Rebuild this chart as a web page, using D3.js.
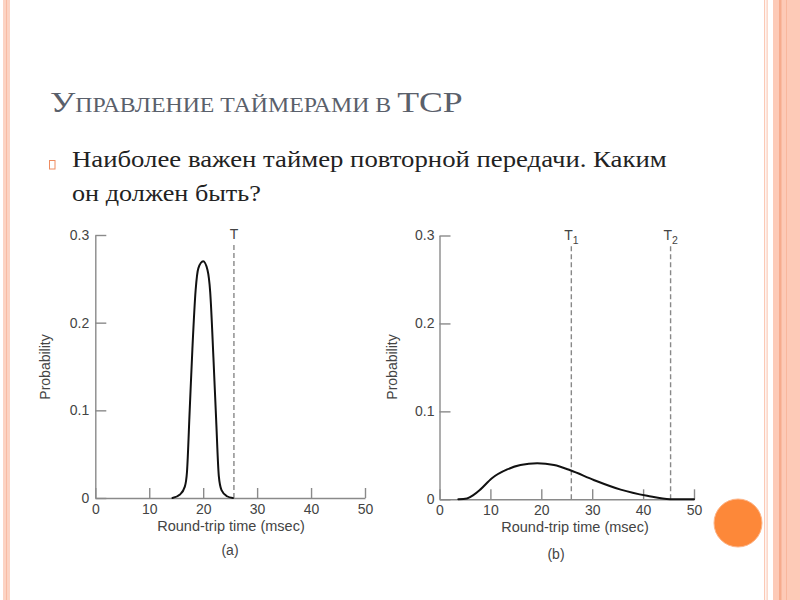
<!DOCTYPE html>
<html>
<head>
<meta charset="utf-8">
<script src="https://cdn.jsdelivr.net/npm/d3@7"></script>
<style>
  html, body { margin: 0; padding: 0; background: #fff; }
  svg { display: block; }
</style>
</head>
<body>
<div id="slide"></div>
<script>
// textos del slide
const titulo = ["У", "ПРАВЛЕНИЕ ТАЙМЕРАМИ В ", "TCP"];
const lineas = ["Наиболее важен таймер повторной передачи. Каким", "он должен быть?"];

// ejes
const xTicks = [0, 10, 20, 30, 40, 50];
const yTicks = [0, 0.1, 0.2, 0.3];
const xLabel = "Round-trip time (msec)";
const yLabel = "Probability";

// (a) distribucion angosta
const rttA = [14.3, 15.7, 16.6, 17.0, 17.5, 18.0, 18.6, 19.1, 20.0, 20.8, 21.3, 21.9, 22.4, 22.9, 23.4, 24.4, 25.5];
const probA = [0, 0.004, 0.013, 0.03, 0.10, 0.17, 0.237, 0.262, 0.27, 0.26, 0.235, 0.16, 0.09, 0.025, 0.009, 0.002, 0];
const timersA = ["T"];
const timersAValor = [25.7];

// (b) distribucion ancha
const rttB = [3.7, 5.4, 6.7, 8.0, 10.3, 13.3, 15.9, 19.2, 22.5, 25.7, 30.3, 35.6, 40.8, 45.3, 50];
const probB = [0, 0.001, 0.005, 0.011, 0.024, 0.034, 0.039, 0.041, 0.039, 0.033, 0.022, 0.011, 0.004, 0, 0];
const timersB = ["T1", "T2"];
const timersBValor = [25.9, 45.4];

const width = 800
const height = 600
const fuente = "'Liberation Sans', Arial, sans-serif";

const svg = d3.select("#slide").append("svg")
  .attr("width", width)
  .attr("height", height)
  .attr("viewBox", [0, 0, width, height]);

// bordes del slide
svg.append("rect").attr("x", 3).attr("y", 0).attr("width", 7).attr("height", height).attr("fill", "#fcd3c3");
svg.append("rect").attr("x", 6).attr("y", 0).attr("width", 1).attr("height", height).attr("fill", "#f8bba3");
svg.append("rect").attr("x", 764).attr("y", 0).attr("width", 1.2).attr("height", height).attr("fill", "#fbc9b6");
svg.append("rect").attr("x", 766.5).attr("y", 0).attr("width", 1.2).attr("height", height).attr("fill", "#fbc9b6");
svg.append("rect").attr("x", 773).attr("y", 0).attr("width", 27).attr("height", height).attr("fill", "#fdcab7");
svg.append("rect").attr("x", 779).attr("y", 0).attr("width", 2.5).attr("height", height).attr("fill", "#f6ab8d");
svg.append("rect").attr("x", 786).attr("y", 0).attr("width", 1).attr("height", height).attr("fill", "#f8b79d");

// ajusta el ancho de un texto al del original
const ajustar = (sel, x, y, ancho) => {
  const w = sel.node().getComputedTextLength();
  sel.attr("transform", `translate(${x},${y}) scale(${ancho / w},1)`);
}

const tit = svg.append("text")
  .attr("font-family", "'Liberation Serif', 'DejaVu Serif', serif")
  .attr("fill", "#5a606b");
tit.selectAll("tspan")
  .data(titulo)
  .join("tspan")
  .attr("font-size", (d, i) => i === 1 ? 20 : 30)
  .text(d => d);
ajustar(tit, 50, 112, 413);

// bullet
svg.append("rect")
  .attr("x", 49.5).attr("y", 160.5)
  .attr("width", 5.5).attr("height", 8.5)
  .attr("fill", "none")
  .attr("stroke", "#ef8c61")
  .attr("stroke-width", 1);

const anchos = [595, 189];
lineas.forEach((linea, i) => {
  const t = svg.append("text")
    .attr("font-family", "'Liberation Serif', 'DejaVu Serif', serif")
    .attr("font-size", 23)
    .attr("fill", "#222")
    .text(linea);
  ajustar(t, 72, 167 + i * 34, anchos[i]);
});

const dibujarGrafico = (cfg) => {
  const x = d3.scaleLinear()
    .domain([0, 50])
    .range([cfg.left, cfg.right])

  const y = d3.scaleLinear()
    .domain([0, 0.3])
    .range([cfg.bottom, cfg.top])

  const g = svg.append("g");

  const xAxis = gg => gg
    .attr("transform", `translate(0,${cfg.bottom})`)
    .call(d3.axisBottom(x).tickValues(xTicks).tickSize(-10).tickSizeOuter(0).tickPadding(6))

  const yAxis = gg => gg
    .attr("transform", `translate(${cfg.left},0)`)
    .call(d3.axisLeft(y).tickValues(yTicks).tickSize(-11).tickSizeOuter(0).tickPadding(cfg.pad)
      .tickFormat(d => d === 0 ? "0" : d3.format(".1f")(d)))

  g.append("g").call(xAxis);
  g.append("g").call(yAxis);

  g.selectAll(".domain, .tick line")
    .attr("stroke", "#8a8a8a")
    .attr("stroke-width", 1.4);
  g.selectAll(".tick text")
    .attr("fill", "#444")
    .style("font-size", "14px")
    .style("font-family", fuente);

  // rotulos
  g.append("text")
    .attr("x", cfg.xTitle)
    .attr("y", cfg.bottom + 33)
    .attr("text-anchor", "middle")
    .style("font-size", "14.5px")
    .style("font-family", fuente)
    .attr("fill", "#444")
    .text(xLabel);

  g.append("text")
    .attr("transform", `translate(${cfg.yTitle},367) rotate(-90)`)
    .attr("text-anchor", "middle")
    .style("font-size", "14px")
    .style("font-family", fuente)
    .attr("fill", "#444")
    .text(yLabel);

  g.append("text")
    .attr("x", cfg.xCaption)
    .attr("y", cfg.captionY)
    .attr("text-anchor", "middle")
    .style("font-size", "14px")
    .style("font-family", fuente)
    .attr("fill", "#444")
    .text(cfg.caption);

  // temporizadores
  cfg.timers.forEach((nombre, i) => {
    const xv = x(cfg.timerValues[i]);
    g.append("line")
      .attr("x1", xv).attr("x2", xv)
      .attr("y1", y(0)).attr("y2", y(0.29))
      .attr("stroke", "#888")
      .attr("stroke-width", 1.4)
      .attr("stroke-dasharray", "5,3");
    const lab = g.append("text")
      .attr("x", xv)
      .attr("y", cfg.top + 4)
      .attr("text-anchor", "middle")
      .style("font-size", "14px")
      .style("font-family", fuente)
      .attr("fill", "#444");
    lab.append("tspan").text(nombre[0]);
    if (nombre.length > 1) {
      lab.append("tspan")
        .style("font-size", "10.5px")
        .attr("dy", 4)
        .text(nombre.slice(1));
    }
  });

  const line = d3.line()
    .curve(d3.curveMonotoneX)
    .x((d, i) => x(cfg.rtt[i]))
    .y(d => y(d))

  g.append("path")
    .datum(cfg.prob)
    .attr("fill", "none")
    .attr("stroke", "#111")
    .attr("stroke-width", 2)
    .attr("stroke-linejoin", "round")
    .attr("stroke-linecap", "round")
    .attr("d", line);
}

dibujarGrafico({
  left: 95.3, right: 365, top: 235, bottom: 498, pad: 6,
  xTitle: 231, yTitle: 50, xCaption: 230, captionY: 555, caption: "(a)",
  rtt: rttA, prob: probA, timers: timersA, timerValues: timersAValor
});

dibujarGrafico({
  left: 439.5, right: 694, top: 235.5, bottom: 499.3, pad: 5,
  xTitle: 575, yTitle: 397, xCaption: 556, captionY: 559, caption: "(b)",
  rtt: rttB, prob: probB, timers: timersB, timerValues: timersBValor
});

// circulo naranja
svg.append("circle")
  .attr("cx", 738)
  .attr("cy", 523)
  .attr("r", 24)
  .attr("fill", "#fd8839")
  .attr("stroke", "#fdb487")
  .attr("stroke-width", 1);
</script>
</body>
</html>
